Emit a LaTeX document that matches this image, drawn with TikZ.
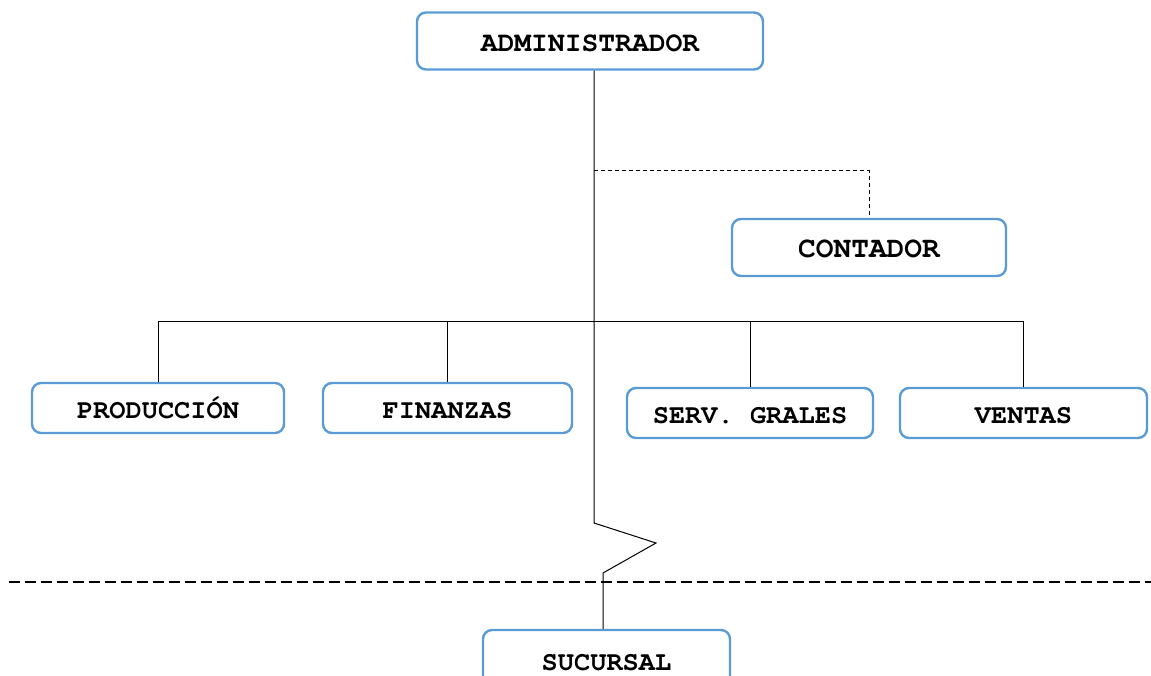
\documentclass[tikz,border=0pt]{standalone}
\usepackage{fontspec}
\setmonofont{TeX Gyre Cursor}
\definecolor{boxblue}{HTML}{5B9BD5}
\begin{document}
\begin{tikzpicture}[x=1pt,y=-1pt,
  orgbox/.style={draw=boxblue, line width=2.4pt, rounded corners=9pt, rectangle,
    inner sep=0pt, text height=21.5pt, text depth=0pt,
    font=\ttfamily\bfseries\fontsize{27}{30}\selectfont, text=black},
  conn/.style={draw=black, line width=1pt},
  dconn/.style={draw=black, line width=1pt, dash pattern=on 4pt off 3pt},
  sepline/.style={draw=black, line width=2.4pt, dash pattern=on 10.5pt off 5.5pt}]
\useasboundingbox (0,0) rectangle (1151,676);
\node[orgbox, minimum width=346pt, minimum height=57pt, text height=22pt,
  font=\ttfamily\bfseries\fontsize{28}{30}\selectfont] (admin) at (590,41) {ADMINISTRADOR};
\node[orgbox, minimum width=274pt, minimum height=57pt, text height=20pt,
  font=\ttfamily\bfseries\fontsize{29.5}{32}\selectfont] (contador) at (869,247.5) {CONTADOR};
\node[orgbox, minimum width=252pt, minimum height=50pt] (prod) at (158,408) {PRODUCCIÓN};
\node[orgbox, minimum width=249pt, minimum height=50pt] (fin) at (447.5,408) {FINANZAS};
\node[orgbox, minimum width=246pt, minimum height=50pt] (serv) at (750,413) {SERV. GRALES};
\node[orgbox, minimum width=247pt, minimum height=50pt] (ventas) at (1023.5,413) {VENTAS};
\node[orgbox, minimum width=247pt, minimum height=60pt] (suc) at (606.5,660) {SUCURSAL};
\coordinate (jc) at (594,171);
\coordinate (jh) at (594,321);
\coordinate (z0) at (594,523);
\coordinate (z1) at (656,543);
\coordinate (z2) at (603,573);
\coordinate (sepL) at (9,582);
\coordinate (sepR) at (1151,582);
% trunk with break
\draw[conn] (admin.south -| jc) -- (z0) -- (z1) -- (z2) -- (suc.north -| z2);
% dashed link to contador
\draw[dconn] (jc) -| (contador.north);
% horizontal bus
\draw[conn] (prod.north |- jh) -- (ventas.north |- jh);
\draw[conn] (prod.north |- jh) -- (prod.north);
\draw[conn] (fin.north |- jh) -- (fin.north);
\draw[conn] (serv.north |- jh) -- (serv.north);
\draw[conn] (ventas.north |- jh) -- (ventas.north);
% separator
\draw[sepline] (sepL) -- (sepR);
\end{tikzpicture}
\end{document}
